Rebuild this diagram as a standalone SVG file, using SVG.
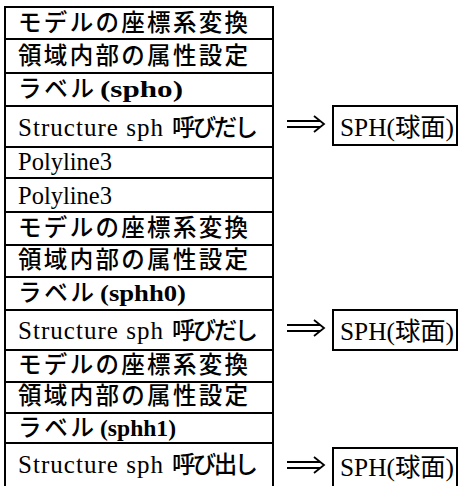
<svg xmlns="http://www.w3.org/2000/svg" width="459" height="486" viewBox="0 0 459 486">
<style>
.frame{fill:none;stroke:#000;stroke-width:2}
.sep{stroke:#000;stroke-width:1.8}
.j{font-family:"Noto Sans CJK JP",sans-serif;font-weight:500;font-size:23.5px;fill:#000}
.l{font-family:"Liberation Serif",serif;font-weight:400;font-size:25px;fill:#000}
.lb{font-family:"Liberation Serif",serif;font-weight:700;font-size:24px;fill:#000}
.s{font-family:"Liberation Serif","Noto Sans CJK JP",serif;font-weight:400;font-size:25px;fill:#000}
.arr{fill:none;stroke:#000;stroke-width:1.8;stroke-linecap:butt}
</style>
<rect width="459" height="486" fill="#fff"/>
<g id="table">
<path class="frame" d="M5,488 V7 H273 V488"/>
<path class="sep" d="M5,39 H273 M5,73 H273 M5,106 H273 M5,147 H273 M5,178 H273 M5,212 H273 M5,245 H273 M5,277 H273 M5,310 H273 M5,350 H273 M5,382 H273 M5,413 H273 M5,443 H273"/>
</g>
<g id="row1"><text class="j" x="18" y="31" textLength="230" lengthAdjust="spacing">モデルの座標系変換</text></g>
<g id="row2"><text class="j" x="18" y="64" textLength="230" lengthAdjust="spacing">領域内部の属性設定</text></g>
<g id="row3"><text x="18" y="97"><tspan class="j" textLength="76" lengthAdjust="spacing">ラベル</tspan><tspan class="lb" x="100" textLength="83" lengthAdjust="spacingAndGlyphs">(spho)</tspan></text></g>
<g id="row4"><text x="18" y="136"><tspan class="l" textLength="145" lengthAdjust="spacing">Structure sph</tspan><tspan class="j" x="172" textLength="86" lengthAdjust="spacing">呼びだし</tspan></text></g>
<g id="row5"><text class="l" x="18" y="170" textLength="94" lengthAdjust="spacingAndGlyphs">Polyline3</text></g>
<g id="row6"><text class="l" x="18" y="204" textLength="94" lengthAdjust="spacingAndGlyphs">Polyline3</text></g>
<g id="row7"><text class="j" x="18" y="236" textLength="230" lengthAdjust="spacing">モデルの座標系変換</text></g>
<g id="row8"><text class="j" x="18" y="268" textLength="230" lengthAdjust="spacing">領域内部の属性設定</text></g>
<g id="row9"><text x="18" y="301"><tspan class="j" textLength="76" lengthAdjust="spacing">ラベル</tspan><tspan class="lb" x="100" textLength="86" lengthAdjust="spacingAndGlyphs">(sphh0)</tspan></text></g>
<g id="row10"><text x="18" y="339"><tspan class="l" textLength="145" lengthAdjust="spacing">Structure sph</tspan><tspan class="j" x="172" textLength="86" lengthAdjust="spacing">呼びだし</tspan></text></g>
<g id="row11"><text class="j" x="18" y="373" textLength="230" lengthAdjust="spacing">モデルの座標系変換</text></g>
<g id="row12"><text class="j" x="18" y="404" textLength="230" lengthAdjust="spacing">領域内部の属性設定</text></g>
<g id="row13"><text x="18" y="436"><tspan class="j" textLength="76" lengthAdjust="spacing">ラベル</tspan><tspan class="lb" x="100" textLength="76" lengthAdjust="spacingAndGlyphs">(sphh1)</tspan></text></g>
<g id="row14"><text x="18" y="473"><tspan class="l" textLength="145" lengthAdjust="spacing">Structure sph</tspan><tspan class="j" x="172" textLength="86" lengthAdjust="spacing">呼び出し</tspan></text></g>
<g id="sph1"><rect class="frame" x="333" y="106" width="124" height="39"/><text class="s" x="340" y="136" textLength="114" lengthAdjust="spacingAndGlyphs">SPH(球面)</text></g>
<g id="sph2"><rect class="frame" x="333" y="310" width="124" height="40"/><text class="s" x="340" y="340" textLength="114" lengthAdjust="spacingAndGlyphs">SPH(球面)</text></g>
<g id="sph3"><path class="frame" d="M333,488 V448 H457 V488"/><text class="s" x="340" y="476" textLength="114" lengthAdjust="spacingAndGlyphs">SPH(球面)</text></g>
<g id="connectors">
<path class="arr" d="M287,121 H320 M287,127 H320 M314,116 L324,124 L314,132"/>
<path class="arr" d="M287,325 H320 M287,331 H320 M314,320 L324,328 L314,336"/>
<path class="arr" d="M287,462 H320 M287,468 H320 M314,457 L324,465 L314,473"/>
</g>
</svg>
